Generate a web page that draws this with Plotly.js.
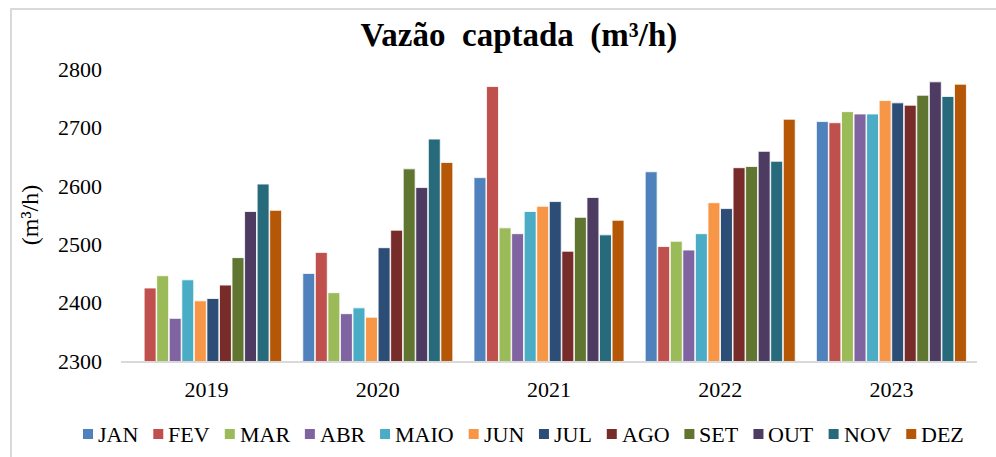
<!DOCTYPE html>
<html><head><meta charset="utf-8">
<script src="https://cdn.plot.ly/plotly-3.0.1.min.js"></script>
<style>
body{margin:0;background:#fff;}
#wrap{position:relative;width:996px;height:457px;overflow:hidden;}
#chart{width:996px;height:457px;}
#frame{position:absolute;left:10px;top:8px;width:1000px;height:470px;border-left:2px solid #d9d9d9;border-top:2px solid #d9d9d9;pointer-events:none;}
</style></head>
<body><div id="wrap"><div id="chart"></div><div id="frame"></div></div>
<script>
const years = ['2019','2020','2021','2022','2023'];
const months = ['JAN','FEV','MAR','ABR','MAIO','JUN','JUL','AGO','SET','OUT','NOV','DEZ'];
const colors = ['#4F81BD','#C0504D','#9BBB59','#8064A2','#4BACC6','#F79646','#2C4D75','#772C2A','#5F7530','#4D3B62','#276A7C','#B65708'];
// values per month across years 2019..2023
const JAN  = [null, 2450, 2614, 2624, 2710];
const FEV  = [2425, 2486, 2770, 2496, 2708];
const MAR  = [2446, 2417, 2528, 2505, 2727];
const ABR  = [2373, 2381, 2518, 2490, 2723];
const MAIO = [2439, 2391, 2556, 2518, 2723];
const JUN  = [2403, 2375, 2565, 2571, 2746];
const JUL  = [2407, 2494, 2573, 2561, 2742];
const AGO  = [2430, 2524, 2488, 2631, 2738];
const SET  = [2477, 2629, 2546, 2633, 2755];
const OUT  = [2556, 2597, 2580, 2659, 2778];
const NOV  = [2603, 2680, 2516, 2642, 2753];
const DEZ  = [2558, 2640, 2541, 2714, 2774];
const series = [JAN,FEV,MAR,ABR,MAIO,JUN,JUL,AGO,SET,OUT,NOV,DEZ];

const serif = 'Liberation Serif';
const W = 996, H = 457;
const M = {l:121, r:19, t:69, b:96};
const PW = W - M.l - M.r, PH = H - M.t - M.b;

const traces = months.map((m,i)=>({
  type:'bar', name:m, x:years, y:series[i],
  marker:{color:colors[i], line:{color:'rgba(255,255,255,0.8)', width:1}},
  hoverinfo:'x+y+name', showlegend:false
}));

// custom legend (small squares close to text, like the reference)
const legFont = 22, sq = 10, sqGap = 5, legLeft = 83, legRight = 964, legCy = 434;
const ctx = document.createElement('canvas').getContext('2d');
ctx.font = legFont + 'px "Liberation Serif"';
const tw = months.map(m => ctx.measureText(m).width);
const used = tw.reduce((a,b)=>a+b,0) + months.length*(sq+sqGap);
const itemGap = (legRight - legLeft - used) / (months.length - 1);
const px2x = p => (p - M.l) / PW;
const py2y = p => (H - M.b - p) / PH;
const shapes = [], annotations = [];
let cx = legLeft;
months.forEach((m,i)=>{
  shapes.push({type:'rect', xref:'paper', yref:'paper', x0:px2x(cx), x1:px2x(cx+sq),
    y0:py2y(legCy+sq/2), y1:py2y(legCy-sq/2), fillcolor:colors[i], line:{width:0}});
  annotations.push({xref:'paper', yref:'paper', x:px2x(cx+sq+sqGap-2), y:py2y(legCy),
    xanchor:'left', yanchor:'middle', text:m, showarrow:false,
    font:{family:serif, size:legFont, color:'#000'}});
  cx += sq + sqGap + tw[i] + itemGap;
});

const layout = {
  width:W, height:H, margin:M,
  font:{family:serif, color:'#000'},
  paper_bgcolor:'#fff', plot_bgcolor:'#fff',
  barmode:'group', bargap:0.12, bargroupgap:0.05,
  title:{text:'<b>Vazão\u00A0\u00A0captada\u00A0\u00A0(m³/h)</b>', font:{family:serif, size:33, color:'#000'},
         x:0.521, xanchor:'center', xref:'container', y:0.925, yanchor:'middle', yref:'container'},
  xaxis:{type:'category', showline:true, linecolor:'#d9d9d9', linewidth:2, ticks:'',
         tickfont:{family:serif, size:22, color:'#000'}, ticklabelstandoff:8, showgrid:false, zeroline:false},
  yaxis:{range:[2300,2800], dtick:100, showgrid:false, zeroline:false, showline:false, ticks:'',
         tickfont:{family:serif, size:22, color:'#000'}, ticklabelstandoff:18,
         title:{text:'(m³/h)', font:{family:serif, size:24, color:'#000'}, standoff:12}},
  shapes: shapes, annotations: annotations,
  showlegend:false
};
Plotly.newPlot('chart', traces, layout, {displayModeBar:false, staticPlot:true});
</script></body></html>
